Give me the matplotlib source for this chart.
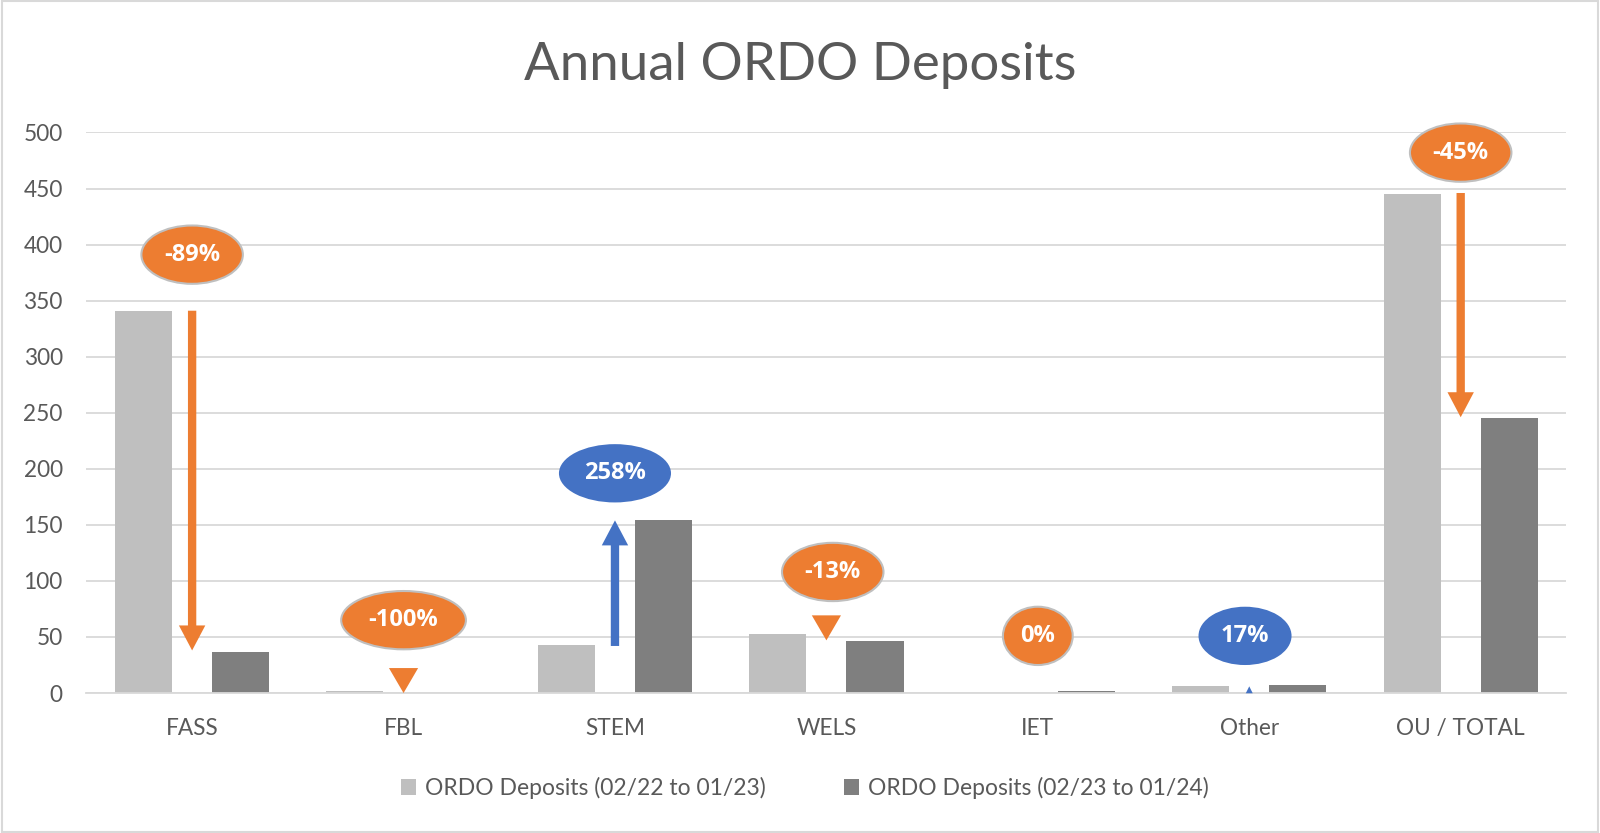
import matplotlib.pyplot as plt
import numpy as np
from matplotlib.patches import Ellipse, Rectangle

plt.rcParams['font.family'] = ['Lato', 'DejaVu Sans']

# data
categories = ['FASS', 'FBL', 'STEM', 'WELS', 'IET', 'Other', 'OU / TOTAL']
deposits_prev = [341, 2, 43, 53, 0, 6, 445]
deposits_curr = [37, 0, 154, 46, 1.5, 7, 245]
series_names = ['ORDO Deposits (02/22 to 01/23)', 'ORDO Deposits (02/23 to 01/24)']

# change callouts
change_labels = ['-89%', '-100%', '258%', '-13%', '0%', '17%', '-45%']
label_y = [391, 65, 196, 108, 51, 51, 482]
label_dx = [0, 0, 0, 0.03, 0, -0.02, 0]
label_w = [0.48, 0.59, 0.53, 0.48, 0.33, 0.44, 0.48]
up = [False, False, True, False, False, True, False]
arrow_from = [341, 1, 42, 48, None, 1, 446]
arrow_to = [38, 0, 154, 47, None, 6, 246]
head_sizes = [(18, 19), (18, 21), (18, 19), (18, 21), (0, 0), (5, 5), (18, 19)]

orange = '#ED7D31'
blue = '#4472C4'
text_grey = '#595959'

fig = plt.figure(figsize=(16, 8.33), dpi=100)
ax = fig.add_axes([0.054, 0.168, 0.925, 0.673])

x = np.arange(len(categories))
w = 0.27
ax.bar(x - 0.23, deposits_prev, w, color='#BFBFBF', label=series_names[0], zorder=2)
ax.bar(x + 0.23, deposits_curr, w, color='#7F7F7F', label=series_names[1], zorder=2)

for i in range(len(categories)):
    col = blue if up[i] else orange
    if arrow_from[i] is not None:
        hl, hw = head_sizes[i]
        ax.annotate('', xy=(x[i], arrow_to[i]), xytext=(x[i], arrow_from[i]),
                    arrowprops=dict(arrowstyle=f'simple,head_length={hl},head_width={hw},tail_width=6',
                                    mutation_scale=1, color=col, lw=0,
                                    shrinkA=0, shrinkB=0), zorder=4)
    el = Ellipse((x[i] + label_dx[i], label_y[i]), label_w[i], 52,
                 facecolor=col, edgecolor='none' if up[i] else '#BFBFBF',
                 lw=1.5, zorder=5, clip_on=False)
    ax.add_patch(el)
    ax.text(x[i] + label_dx[i], label_y[i], change_labels[i], color='white',
            fontsize=17, fontweight='bold', family=['Open Sans', 'DejaVu Sans'],
            ha='center', va='center', zorder=6, clip_on=False)

ax.set_xlim(-0.5, len(categories) - 0.5)
ax.set_ylim(0, 500)
ax.set_yticks(range(0, 501, 50))
ax.set_xticks(x)
ax.set_xticklabels(categories)
ax.yaxis.grid(True, color='#D9D9D9', lw=1.3, zorder=0)
ax.set_axisbelow(True)
for s in ['top', 'right', 'left']:
    ax.spines[s].set_visible(False)
ax.spines['bottom'].set_color('#D9D9D9')
ax.spines['bottom'].set_linewidth(1.3)
ax.tick_params(axis='both', length=0, labelsize=16.3, labelcolor=text_grey)
ax.tick_params(axis='x', pad=18)
ax.tick_params(axis='y', pad=17)

fig.suptitle('Annual ORDO Deposits', x=0.5, y=0.921, fontsize=38, color=text_grey, va='center')

leg = fig.legend(loc='center', bbox_to_anchor=(0.503, 0.054), ncol=2, frameon=False,
                 fontsize=16.5, handlelength=0.65, handleheight=0.65, handletextpad=0.4,
                 columnspacing=3.4, labelcolor=text_grey)

fig.add_artist(Rectangle((0.001, 0.001), 0.998, 0.998, transform=fig.transFigure,
                         fill=False, edgecolor='#D9D9D9', lw=1.5))

plt.savefig('out.png', dpi=100)
